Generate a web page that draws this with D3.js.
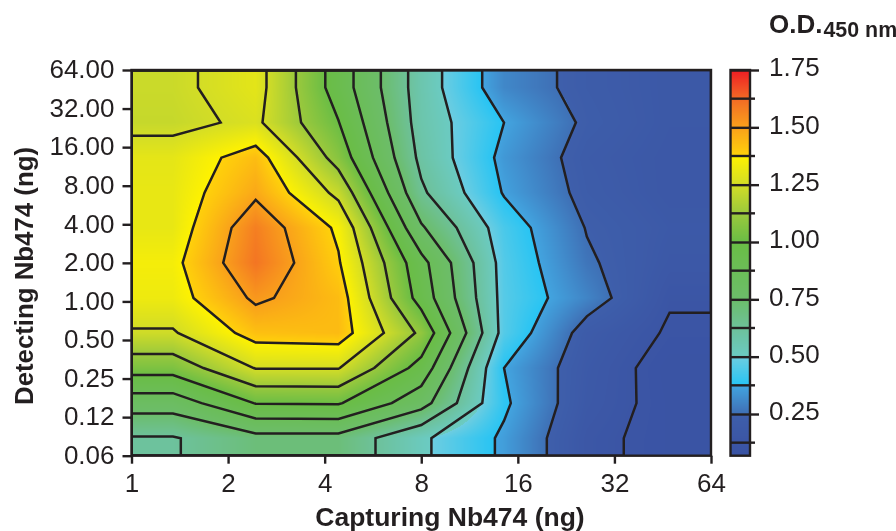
<!DOCTYPE html>
<html><head><meta charset="utf-8">
<script src="https://cdn.jsdelivr.net/npm/d3@7"></script>
<style>
html,body{margin:0;padding:0;background:#fff}
#w{position:relative;width:896px;height:531px;overflow:hidden}
canvas,svg{position:absolute;left:0;top:0}
text{font-family:"Liberation Sans",Arial,sans-serif;fill:#231f20}
</style></head><body><div id="w"></div>
<script>
// Contour data: rows run from the top of the plot to the bottom, columns left to right
const xLabels = ["1","2","4","8","16","32","64"];
const yLabels = ["64.00","32.00","16.00","8.00","4.00","2.00","1.00","0.50","0.25","0.12","0.06"];
const odRow0  = [1.23, 1.296, 0.944, 0.565, 0.307, 0.218, 0.17];
const odRow1  = [1.22, 1.272, 1.004, 0.572, 0.375, 0.231, 0.17];
const odRow2  = [1.30, 1.428, 1.075, 0.595, 0.345, 0.207, 0.16];
const odRow3  = [1.31, 1.48, 1.22, 0.645, 0.367, 0.219, 0.16];
const odRow4  = [1.31, 1.578, 1.355, 0.765, 0.437, 0.245, 0.18];
const odRow5  = [1.345, 1.60, 1.385, 0.915, 0.455, 0.265, 0.165];
const odRow6  = [1.327, 1.52, 1.43, 0.95, 0.46, 0.30, 0.133];
const odRow7  = [1.239, 1.42, 1.432, 1.10, 0.457, 0.205, 0.114];
const odRow8  = [1.049, 1.255, 1.255, 0.954, 0.375, 0.183, 0.085];
const odRow9  = [0.806, 1.005, 1.01, 0.80, 0.393, 0.173, 0.093];
const odRow10 = [0.616, 0.71, 0.71, 0.52, 0.357, 0.15, 0.094];
const odRows = [odRow0,odRow1,odRow2,odRow3,odRow4,odRow5,odRow6,odRow7,odRow8,odRow9,odRow10];
const contourLevels = [0.125,0.25,0.375,0.5,0.625,0.75,0.875,1,1.125,1.25,1.375,1.5];
const barMajor = [0.25,0.5,0.75,1,1.25,1.5,1.75];
const barMinor = [0.125,0.375,0.625,0.875,1.125,1.375,1.625];
const colorStops = [0.069,0.125,0.25,0.2501,0.375,0.3751,0.5,0.5001,0.625,0.75,1.0,1.125,1.25,1.3749,1.375,1.5,1.625,1.75];
const colorRange = ["#3953a4","#3b55a5","#3e5fab","#3f6fb5","#42a5e0","#27c4f4","#6dcde0","#6bcbc3","#6dc19a","#6cbd6a","#6abd45","#9bc93c","#d3dd26","#fff200","#ffd20a","#f9a01b","#f26a25","#ed1c24"];

const L=131.5,R=711,T=70,B=455.7,W=896,H=531;
const nc=xLabels.length,nr=yLabels.length;
const cw=(R-L)/nc,ch=(B-T)/nr;
const color=d3.scaleLinear().domain(colorStops).range(colorRange).clamp(true);
// Grid scales: the outer points repeat the edge cells so that contours run straight to the frame
const gx=d3.scaleLinear().domain(d3.range(nc+2)).range([L,...d3.range(nc).map(i=>L+cw*(i+.5)),R]);
const gy=d3.scaleLinear().domain(d3.range(nr+2)).range([T,...d3.range(nr).map(j=>T+ch*(j+.5)),B]);
const ext=[odRows[0],...odRows,odRows[nr-1]].map(r=>[r[0],...r,r[nc-1]]);
const flat=ext.flat();
const N=nc+2,M=nr+2;
function val(u,v){
  const i=Math.min(N-2,Math.floor(u)),j=Math.min(M-2,Math.floor(v)),a=u-i,b=v-j;
  return (1-b)*((1-a)*ext[j][i]+a*ext[j][i+1])+b*((1-a)*ext[j+1][i]+a*ext[j+1][i+1]);
}
const root=d3.select("#w");
const cv=root.append("canvas").attr("width",W).attr("height",H).node(),ctx=cv.getContext("2d");
ctx.fillStyle="#fff";ctx.fillRect(0,0,W,H);
const px0=Math.floor(L),px1=Math.ceil(R),py0=Math.floor(T),py1=Math.ceil(B);
for(let y=py0;y<py1;y++)for(let x=px0;x<px1;x++){
  const u=Math.max(0,Math.min(N-1,gx.invert(x+.5))),v=Math.max(0,Math.min(M-1,gy.invert(y+.5)));
  ctx.fillStyle=color(val(u,v));ctx.fillRect(x,y,1,1);
}
const barY=d3.scaleLinear().domain([0.25,1.75]).range([414,70]);
const BX0=731,BX1=750;
for(let y=70;y<456;y++){ctx.fillStyle=color(barY.invert(y+.5));ctx.fillRect(BX0,y,BX1-BX0,1);}

const svg=root.append("svg").attr("width",W).attr("height",H);
svg.append("defs").append("clipPath").attr("id","pc").append("rect").attr("x",L).attr("y",T).attr("width",R-L).attr("height",B-T);
const cx=u=>gx(Math.max(0,Math.min(N-1,u-.5))),cy=v=>gy(Math.max(0,Math.min(M-1,v-.5)));
const line=d3.line().x(p=>cx(p[0])).y(p=>cy(p[1])).curve(d3.curveLinearClosed);
const conts=d3.contours().size([N,M]).smooth(true).thresholds(contourLevels)(flat);
const pathD=c=>c.coordinates.flatMap(poly=>poly.map(ring=>line(ring.slice(0,-1)))).join("");
svg.append("g").attr("clip-path","url(#pc)").selectAll("path").data(conts).join("path")
  .attr("d",pathD).attr("fill","none").attr("stroke","#231f20").attr("stroke-width",2.5).attr("stroke-linejoin","miter");
svg.append("rect").attr("x",L).attr("y",T).attr("width",R-L).attr("height",B-T).attr("fill","none").attr("stroke","#231f20").attr("stroke-width",2.4);

const xS=d3.scalePoint().domain(xLabels).range([L,R]);
const yS=d3.scalePoint().domain(yLabels).range([T,B]);
const fs=26;
const gxA=svg.append("g").attr("transform",`translate(0,${B})`).call(d3.axisBottom(xS).tickSize(8).tickPadding(5));
const gyA=svg.append("g").attr("transform",`translate(${L},0)`).call(d3.axisLeft(yS).tickSize(9).tickPadding(8));
[gxA,gyA].forEach(g=>{
  g.select(".domain").remove();
  g.selectAll("line").attr("stroke","#231f20").attr("stroke-width",2.4);
  g.selectAll("text").style("font-size",fs+"px").attr("font-family",null);
});
gyA.selectAll("text").attr("dy","0.3em");
gxA.selectAll("text").attr("y",18);
svg.append("text").attr("x",450).attr("y",526).attr("text-anchor","middle").style("font-size","26.5px").style("font-weight","bold").text("Capturing Nb474 (ng)");
svg.append("text").attr("transform","translate(33,276) rotate(-90)").attr("text-anchor","middle").style("font-size","25.8px").style("font-weight","bold").text("Detecting Nb474 (ng)");

// colour bar
svg.append("rect").attr("x",BX0-.5).attr("y",T).attr("width",BX1-BX0+.5).attr("height",B-T).attr("fill","none").attr("stroke","#231f20").attr("stroke-width",2.4);
const barG=svg.append("g").attr("transform",`translate(${BX1},0)`).call(d3.axisRight(barY).tickValues(barMajor).tickFormat(d3.format(".2f")).tickSize(9).tickPadding(10));
barG.select(".domain").remove();
barG.selectAll("line").attr("x1",-19).attr("stroke","#231f20").attr("stroke-width",2.4);
barG.selectAll("text").style("font-size",fs+"px").attr("font-family",null).attr("dy","0.22em");
svg.append("g").selectAll("line").data(barMinor).join("line")
  .attr("x1",BX0-.5).attr("x2",BX1+5).attr("y1",d=>barY(d)).attr("y2",d=>barY(d)).attr("stroke","#231f20").attr("stroke-width",2.4);
const t=svg.append("text").attr("x",769).attr("y",33).style("font-size","26px").style("font-weight","bold");
t.append("tspan").text("O.D.");
t.append("tspan").attr("dx",1).attr("dy",4).style("font-size","21.4px").text("450 nm");
</script></body></html>
